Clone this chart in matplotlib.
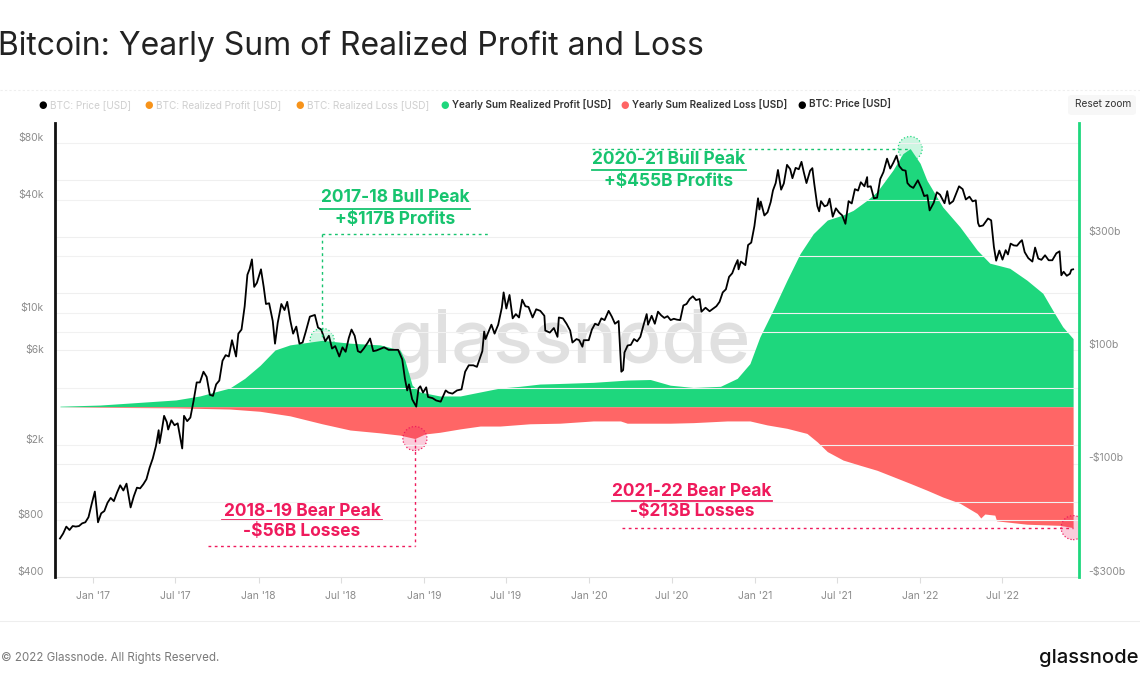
import matplotlib
matplotlib.use('Agg')
import matplotlib.pyplot as plt
import matplotlib.dates as mdates
from matplotlib.lines import Line2D
from matplotlib.patches import FancyBboxPatch
from matplotlib.ticker import NullLocator
import numpy as np

plt.rcParams['font.family'] = ['Inter', 'DejaVu Sans']

# ---------------- data ----------------
price_dates = ['2016-10-19','2016-10-26','2016-11-02','2016-11-09','2016-11-16','2016-11-23','2016-11-30',
 '2016-12-07','2016-12-14','2016-12-21','2016-12-28','2017-01-04','2017-01-11','2017-01-18','2017-01-25',
 '2017-02-01','2017-02-08','2017-02-15','2017-02-22','2017-03-01','2017-03-08','2017-03-15','2017-03-24',
 '2017-03-31','2017-04-07','2017-04-14','2017-04-21','2017-04-28','2017-05-05','2017-05-12','2017-05-19',
 '2017-05-25','2017-05-27','2017-06-01','2017-06-06','2017-06-12','2017-06-15','2017-06-22','2017-06-29',
 '2017-07-06','2017-07-16','2017-07-20','2017-07-27','2017-08-03','2017-08-10','2017-08-17','2017-08-24',
 '2017-09-01','2017-09-08','2017-09-15','2017-09-22','2017-09-29','2017-10-06','2017-10-13','2017-10-20',
 '2017-10-27','2017-11-03','2017-11-12','2017-11-17','2017-11-24','2017-12-01','2017-12-07','2017-12-12',
 '2017-12-17','2017-12-22','2017-12-28','2018-01-06','2018-01-12','2018-01-17','2018-01-24','2018-02-01',
 '2018-02-06','2018-02-12','2018-02-20','2018-02-27','2018-03-05','2018-03-12','2018-03-18','2018-03-25',
 '2018-04-01','2018-04-08','2018-04-15','2018-04-24','2018-05-05','2018-05-12','2018-05-19','2018-05-28',
 '2018-06-05','2018-06-12','2018-06-19','2018-06-28','2018-07-05','2018-07-12','2018-07-19','2018-07-25',
 '2018-08-01','2018-08-08','2018-08-14','2018-08-21','2018-08-30','2018-09-04','2018-09-11','2018-09-18',
 '2018-09-25','2018-10-05','2018-10-15','2018-10-25','2018-11-05','2018-11-14','2018-11-20','2018-11-25',
 '2018-11-29','2018-12-06','2018-12-15','2018-12-20','2018-12-24','2018-12-30','2019-01-06','2019-01-10',
 '2019-01-20','2019-01-28','2019-02-07','2019-02-18','2019-02-24','2019-03-05','2019-03-15','2019-03-25',
 '2019-04-02','2019-04-10','2019-04-20','2019-04-28','2019-05-10','2019-05-14','2019-05-17','2019-05-30',
 '2019-06-06','2019-06-14','2019-06-22','2019-06-26','2019-07-02','2019-07-09','2019-07-16','2019-07-23',
 '2019-07-30','2019-08-06','2019-08-13','2019-08-20','2019-08-29','2019-09-06','2019-09-15','2019-09-24',
 '2019-09-26','2019-10-06','2019-10-15','2019-10-23','2019-10-26','2019-11-04','2019-11-12','2019-11-20',
 '2019-11-25','2019-12-04','2019-12-10','2019-12-17','2019-12-20','2019-12-31','2020-01-07','2020-01-14',
 '2020-01-21','2020-01-28','2020-02-04','2020-02-13','2020-02-20','2020-02-27','2020-03-06','2020-03-12',
 '2020-03-16','2020-03-19','2020-03-26','2020-04-02','2020-04-09','2020-04-16','2020-04-23','2020-04-30',
 '2020-05-07','2020-05-10','2020-05-18','2020-05-25','2020-06-01','2020-06-08','2020-06-15','2020-06-22',
 '2020-06-29','2020-07-06','2020-07-13','2020-07-20','2020-07-27','2020-08-03','2020-08-10','2020-08-17',
 '2020-08-24','2020-09-01','2020-09-05','2020-09-14','2020-09-23','2020-10-01','2020-10-08','2020-10-15',
 '2020-10-22','2020-10-29','2020-11-05','2020-11-12','2020-11-18','2020-11-24','2020-11-26','2020-12-01',
 '2020-12-11','2020-12-17','2020-12-24','2020-12-31','2021-01-08','2021-01-11','2021-01-14','2021-01-22',
 '2021-01-29','2021-02-05','2021-02-10','2021-02-16','2021-02-21','2021-02-28','2021-03-06','2021-03-13',
 '2021-03-20','2021-03-25','2021-04-01','2021-04-08','2021-04-14','2021-04-19','2021-04-25','2021-05-03',
 '2021-05-08','2021-05-12','2021-05-19','2021-05-23','2021-05-27','2021-06-04','2021-06-10','2021-06-15',
 '2021-06-22','2021-06-29','2021-07-06','2021-07-13','2021-07-20','2021-07-27','2021-08-03','2021-08-10',
 '2021-08-17','2021-08-23','2021-08-31','2021-09-06','2021-09-07','2021-09-14','2021-09-21','2021-09-28',
 '2021-10-05','2021-10-12','2021-10-20','2021-10-27','2021-11-03','2021-11-10','2021-11-16','2021-11-23',
 '2021-11-30','2021-12-04','2021-12-10','2021-12-17','2021-12-27','2022-01-04','2022-01-10','2022-01-17',
 '2022-01-22','2022-01-31','2022-02-07','2022-02-14','2022-02-24','2022-03-02','2022-03-07','2022-03-15',
 '2022-03-28','2022-04-05','2022-04-12','2022-04-20','2022-04-27','2022-05-04','2022-05-09','2022-05-12',
 '2022-05-20','2022-05-31','2022-06-07','2022-06-13','2022-06-18','2022-06-25','2022-07-02','2022-07-09',
 '2022-07-14','2022-07-20','2022-07-27','2022-08-03','2022-08-10','2022-08-14','2022-08-20','2022-08-28',
 '2022-09-06','2022-09-12','2022-09-19','2022-09-26','2022-10-04','2022-10-12','2022-10-20','2022-10-29',
 '2022-11-05','2022-11-09','2022-11-14','2022-11-21','2022-11-28','2022-12-01','2022-12-05']
price_values = [640,680,740,710,745,740,745,
 770,780,830,975,1135,780,870,895,
 990,1050,1010,1120,1225,1150,1250,935,
 1070,1190,1180,1240,1320,1520,1700,1980,
 2400,2050,2400,2860,2650,2420,2710,2550,
 2610,1920,2860,2680,2800,3420,4300,4300,
 4900,4600,3700,3650,4200,4400,5600,6000,
 5900,7200,5900,7800,8200,10900,16000,17200,
 19300,13800,14500,17100,13800,11200,11300,9100,
 6900,8900,11200,10400,11500,9100,7800,8500,
 6900,7000,8000,9600,9800,8400,8200,7100,
 7600,6500,6700,5900,6600,6250,7400,8200,
 7600,6300,6200,6500,7000,7350,6300,6350,
 6450,6600,6400,6400,6400,5700,4500,3900,
 4200,3500,3200,4000,4100,3800,4050,3600,
 3550,3450,3400,3900,3800,3750,3900,3950,
 4900,5300,5300,5200,6300,8000,7300,8700,
 7800,8700,10700,12900,10600,12500,9400,9900,
 9500,11800,10900,10800,9500,10500,10300,9700,
 8100,7900,8350,7500,9500,9400,8800,8100,
 7000,7300,7200,6650,7200,7200,8200,8800,
 8650,9400,9200,10300,9600,8800,9100,4900,
 5000,6200,6750,6800,7300,7100,7500,8650,
 9900,8700,9700,8800,10200,9750,9450,9650,
 9200,9350,9250,9200,11000,11200,11900,12300,
 11750,11900,10200,10700,10250,10600,10900,11500,
 12900,13400,15600,16300,17800,19150,17100,18800,
 18000,23000,23700,29000,40700,35500,39100,33000,
 34300,38900,44800,49000,57500,45200,48800,61200,
 58100,52000,59000,58000,63500,56000,49000,57000,
 58800,49000,37000,34700,39300,36900,37400,40500,
 32500,36000,34200,33000,29800,39300,38200,45500,
 44700,49500,47100,52700,46800,47100,40700,41000,
 51500,56000,66000,58500,62900,68500,60300,57500,
 57000,49000,47200,46200,50700,46000,41800,42300,
 35100,38500,43800,42500,38300,44400,38000,39300,
 47100,45500,40100,41500,39200,39700,30100,28900,
 29200,31800,31100,22500,19000,21500,19250,21600,
 20500,23400,22900,22800,23900,24400,21100,19600,
 18800,22300,19500,19200,20300,19100,19100,20800,
 21300,15900,16600,15800,16200,17000,17100]

profit_dates = ['2016-10-19','2017-01-15','2017-07-02','2017-08-24','2017-10-29','2017-12-01','2018-01-04',
 '2018-02-06','2018-03-11','2018-04-24','2018-05-21','2018-07-22','2018-09-26','2018-11-09','2018-11-20',
 '2018-12-06','2018-12-23','2019-02-05','2019-03-22','2019-05-05','2019-06-18','2019-08-01','2019-09-14',
 '2019-10-28','2020-01-10','2020-03-25','2020-05-15','2020-06-28','2020-08-18','2020-10-17','2020-11-23',
 '2020-12-21','2021-01-12','2021-02-10','2021-03-13','2021-04-11','2021-05-10','2021-06-10','2021-07-15',
 '2021-08-06','2021-09-06','2021-09-28','2021-11-02','2021-11-24','2021-12-10','2022-01-01','2022-01-16',
 '2022-02-20','2022-03-30','2022-05-07','2022-06-04','2022-07-18','2022-08-25','2022-09-29','2022-10-21',
 '2022-11-12','2022-12-05']
profit_values = [1,3,12,19,33,50,73,
 100,109,114,117,112,109,100,82,
 38,26,19,19,26,33,36,40,
 41,43,47,48,38,34,36,50,
 76,123,170,223,270,305,329,338,
 346,364,379,417,446,455,429,399,
 352,317,276,253,244,223,200,170,
 141,120]

loss_dates = ['2016-10-19','2017-01-15','2017-07-02','2017-10-29','2018-01-04','2018-03-11','2018-05-21',
 '2018-07-22','2018-09-26','2018-11-09','2018-12-12','2019-01-03','2019-02-05','2019-03-22','2019-05-05',
 '2019-06-18','2019-08-23','2019-10-28','2020-01-10','2020-03-10','2020-03-25','2020-06-28','2020-08-18',
 '2020-11-01','2020-12-21','2021-01-28','2021-03-13','2021-04-26','2021-05-19','2021-06-10','2021-07-15',
 '2021-08-21','2021-09-28','2021-11-02','2021-12-10','2022-01-16','2022-02-20','2022-03-30','2022-05-07',
 '2022-05-15','2022-05-24','2022-06-15','2022-06-19','2022-08-25','2022-11-06','2022-12-05']
loss_values = [0,-1,-2,-4,-8,-16,-30,
 -41,-46,-50,-56,-48,-45,-39,-34,
 -34,-30,-29,-25,-25,-29,-29,-28,
 -25,-25,-32,-38,-47,-62,-79,-94,
 -103,-112,-123,-135,-147,-159,-170,-188,
 -196,-189,-191,-201,-207,-209,-213]

price_ticks = [400, 800, 2000, 6000, 10000, 40000, 80000]
price_tick_labels = ['$400', '$800', '$2k', '$6k', '$10k', '$40k', '$80k']
pl_ticks = [-300, -100, 100, 300]
pl_tick_labels = ['-$300b', '-$100b', '$100b', '$300b']
x_tick_dates = ['2017-01-01','2017-07-01','2018-01-01','2018-07-01','2019-01-01','2019-07-01',
                '2020-01-01','2020-07-01','2021-01-01','2021-07-01','2022-01-01','2022-07-01']
x_tick_labels = ["Jan '17", "Jul '17", "Jan '18", "Jul '18", "Jan '19", "Jul '19",
                 "Jan '20", "Jul '20", "Jan '21", "Jul '21", "Jan '22", "Jul '22"]

legend_items = [('BTC: Price [USD]', '#000000', False),
                ('BTC: Realized Profit [USD]', '#f7931a', False),
                ('BTC: Realized Loss [USD]', '#f7931a', False),
                ('Yearly Sum Realized Profit [USD]', '#1ed77d', True),
                ('Yearly Sum Realized Loss [USD]', '#ff6464', True),
                ('BTC: Price [USD]', '#000000', True)]

# ---------------- styling ----------------
GREEN_FILL = '#1ed77d'
RED_FILL = '#ff6666'
GREEN_TXT = '#17c46f'
PINK_TXT = '#ef1a5c'
AXIS_TXT = '#8c8c8c'

W, H = 1140, 694
fig = plt.figure(figsize=(W / 100, H / 100), dpi=100)

def fx(px):
    return px / W

def fy(py):
    return 1 - py / H

def d2n(s):
    return mdates.datestr2num(s)

L, R, T, B = 55, 1079, 123, 577
ax = fig.add_axes([fx(L), fy(B), fx(R) - fx(L), fy(T) - fy(B)])
ax2 = ax.twinx()

pd_num = np.array([d2n(s) for s in profit_dates])
ld_num = np.array([d2n(s) for s in loss_dates])
px_num = np.array([d2n(s) for s in price_dates])
profit = np.array(profit_values, dtype=float)
loss = np.array(loss_values, dtype=float)
price = np.array(price_values, dtype=float)

xmin, xmax = d2n('2016-10-08'), d2n('2022-12-18')

# gridlines
for v in [-200, -100, 100, 200, 300, 400]:
    ax.axhline(v, color='#efefef', lw=0.8, zorder=0)
ax.fill_between(pd_num, 0, profit, color=GREEN_FILL, lw=0, zorder=2)
ax.fill_between(ld_num, 0, loss, color=RED_FILL, lw=0, zorder=2)
ax.set_xlim(xmin, xmax)
ax.set_ylim(-300, 500)

ax2.set_yscale('log')
ax2.set_ylim(400, 102000)
for v in [800, 1000, 2000, 4000, 8000, 10000, 20000, 40000, 80000]:
    ax2.axhline(v, color='#f1f1f1', lw=0.8, zorder=0)
ax2.plot(px_num, price, color='#000000', lw=1.3, zorder=5)
ax2.set_xlim(xmin, xmax)

# watermark
ax.text(0.502, 0.515, 'glassnode', transform=ax.transAxes, ha='center', va='center',
        fontsize=53, color='#e0e0e0', fontweight='medium', zorder=1)

# axes styling
ax.yaxis.tick_right()
ax.set_yticks(pl_ticks)
ax.set_yticklabels(pl_tick_labels)
ax.tick_params(axis='y', length=0, pad=7, labelsize=7.5, labelcolor=AXIS_TXT)
for lab in ax.get_yticklabels():
    lab.set_va('bottom')
ax2.yaxis.tick_left()
ax2.yaxis.set_minor_locator(NullLocator())
ax2.set_yticks(price_ticks)
ax2.set_yticklabels(price_tick_labels)
ax2.tick_params(axis='y', which='both', length=0, pad=8, labelsize=7.5, labelcolor=AXIS_TXT)
for lab in ax2.get_yticklabels():
    lab.set_va('bottom')

ax.set_xticks([d2n(s) for s in x_tick_dates])
ax.set_xticklabels(x_tick_labels)
ax.tick_params(axis='x', length=4, color='#dddddd', pad=6, labelsize=7.5, labelcolor=AXIS_TXT)
ax2.tick_params(axis='x', length=0)

for a in (ax, ax2):
    for s in ('top', 'left', 'right', 'bottom'):
        a.spines[s].set_visible(False)
ax.spines['bottom'].set_visible(True)
ax.spines['bottom'].set_color('#e2e2e2')
ax.spines['bottom'].set_linewidth(0.8)
ax2.spines['left'].set_visible(True)
ax2.spines['left'].set_color('#111111')
ax2.spines['left'].set_linewidth(2)
ax2.spines['right'].set_visible(True)
ax2.spines['right'].set_color(GREEN_FILL)
ax2.spines['right'].set_linewidth(2)
ax2.patch.set_visible(False)
ax.set_zorder(1)
ax2.set_zorder(2)

# ---------------- annotations ----------------
inv = fig.transFigure.inverted()

def to_fig(axis, x, y):
    return inv.transform(axis.transData.transform((x, y)))

def fig_line(xs, ys, color):
    fig.add_artist(Line2D(xs, ys, transform=fig.transFigure, color=color, lw=1.0,
                          ls=(0, (2, 2.5)), zorder=6))

def label(cx, y1, y2, uy, t1, t2, color, half):
    fig.text(fx(cx), fy(y1), t1, ha='center', va='center', fontsize=12.5,
             fontweight='bold', color=color)
    fig.text(fx(cx), fy(y2), t2, ha='center', va='center', fontsize=12.5,
             fontweight='bold', color=color)
    fig.add_artist(Line2D([fx(cx - half), fx(cx + half)], [fy(uy), fy(uy)],
                          transform=fig.transFigure, color=color, lw=1.3))

def marker(axis, x, y, color):
    axis.scatter([x], [y], s=300, facecolor=color, alpha=0.22, edgecolor='none', zorder=7)
    axis.scatter([x], [y], s=300, facecolor='none', edgecolor=color, linewidth=0.9,
                 linestyle=':', zorder=7)

pre19 = pd_num < d2n('2019-06-01')
i1 = int(np.argmax(np.where(pre19, profit, -1)))
i2 = int(np.argmax(profit))
lpre = ld_num < d2n('2020-01-01')
j1 = int(np.argmin(np.where(lpre, loss, 1)))
j2 = int(np.argmin(loss))

# 2017-18 bull peak
p1 = to_fig(ax, pd_num[i1], profit[i1])
marker(ax, pd_num[i1], profit[i1], GREEN_FILL)
fig_line([p1[0], p1[0]], [fy(234), p1[1]], GREEN_TXT)
fig_line([p1[0], fx(490)], [fy(234), fy(234)], GREEN_TXT)
label(395, 198, 219, 209, '2017-18 Bull Peak', '+$117B Profits', GREEN_TXT, 75)

# 2020-21 bull peak
p2 = to_fig(ax, pd_num[i2], profit[i2])
marker(ax, pd_num[i2], profit[i2], GREEN_FILL)
fig_line([fx(592), p2[0]], [p2[1], p2[1]], GREEN_TXT)
label(669, 160, 181, 170, '2020-21 Bull Peak', '+$455B Profits', GREEN_TXT, 77)

# 2018-19 bear peak
q1 = to_fig(ax, ld_num[j1], loss[j1])
marker(ax, ld_num[j1], loss[j1], PINK_TXT)
fig_line([q1[0], q1[0]], [q1[1], fy(546)], PINK_TXT)
fig_line([fx(208), q1[0]], [fy(546), fy(546)], PINK_TXT)
label(302, 511, 531, 520, '2018-19 Bear Peak', '-$56B Losses', PINK_TXT, 80)

# 2021-22 bear peak
q2 = to_fig(ax, ld_num[j2], loss[j2])
marker(ax, ld_num[j2], loss[j2], PINK_TXT)
fig_line([fx(622), q2[0]], [q2[1], q2[1]], PINK_TXT)
label(692, 491, 512, 501, '2021-22 Bear Peak', '-$213B Losses', PINK_TXT, 80)

# ---------------- title / legend / footer ----------------
fig.text(fx(-2), fy(46), 'Bitcoin: Yearly Sum of Realized Profit and Loss', ha='left', va='center',
         fontsize=23, color='#222222')

fig.add_artist(Line2D([0, 1], [fy(90), fy(90)], transform=fig.transFigure, color='#eeeeee', lw=0.8,
                      ls=(0, (2, 2))))
fig.add_artist(Line2D([0, 1], [fy(621), fy(621)], transform=fig.transFigure, color='#eeeeee', lw=0.8))

leg_x = [43, 149, 300, 445, 625, 802]
for (txt, col, active), lx in zip(legend_items, leg_x):
    fig.text(fx(lx), fy(105), '\u25CF', ha='center', va='center', fontsize=7, color=col,
             family=['DejaVu Sans'])
    fig.text(fx(lx + 7), fy(105), txt, ha='left', va='center', fontsize=7.2,
             color='#333333' if active else '#cfcfcf',
             fontweight='semibold' if active else 'normal')

fig.patches.append(FancyBboxPatch((fx(1068), fy(115)), fx(68), fy(95) - fy(115),
                                  boxstyle='round,pad=0,rounding_size=0.004',
                                  transform=fig.transFigure, facecolor='#f7f7f7',
                                  edgecolor='none', figure=fig))
fig.text(fx(1103), fy(104), 'Reset zoom', ha='center', va='center', fontsize=7.3, color='#333333')

fig.text(fx(1), fy(658), '\u00A9 2022 Glassnode. All Rights Reserved.', ha='left', va='center',
         fontsize=8.3, color='#7a7a7a')
fig.text(fx(1138), fy(658), 'glassnode', ha='right', va='center', fontsize=14.5, color='#111111',
         fontweight='medium')

fig.savefig('out.png', dpi=100)
